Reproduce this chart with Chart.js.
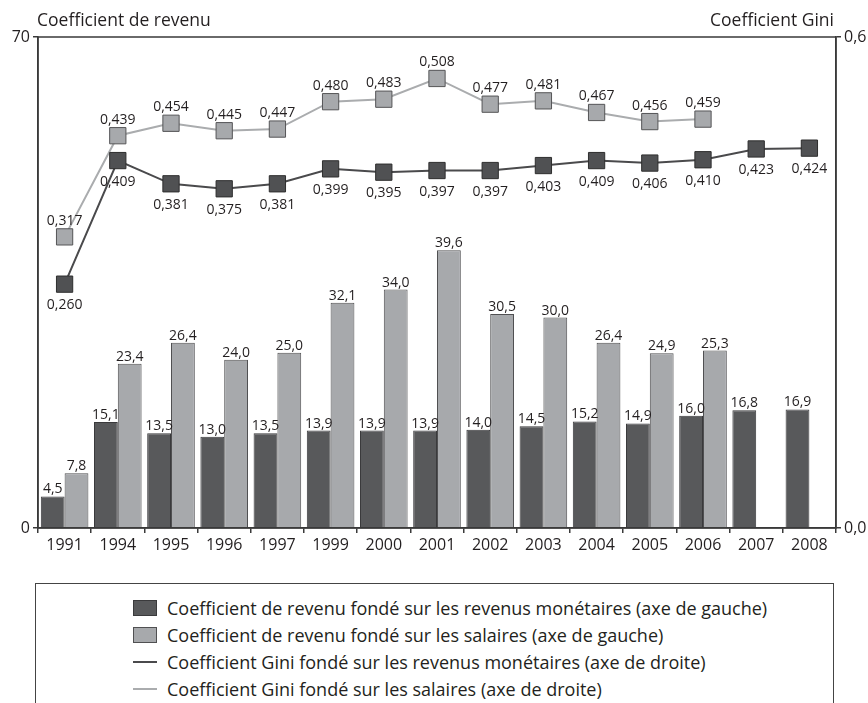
<!DOCTYPE html>
<html lang="fr">
<head>
<meta charset="utf-8">
<title>Coefficient de revenu et coefficient Gini</title>
<script src="https://cdn.jsdelivr.net/npm/chart.js@4.4.1/dist/chart.umd.min.js"></script>
<style>
  html, body { margin: 0; padding: 0; background: #fff; overflow: hidden; }
  body { width: 868px; height: 703px; position: relative; font-family: "Open Sans", sans-serif; color: #231f20; }
  #chart { position: absolute; left: 0; top: 0; }
  #legend {
    position: absolute; left: 35px; top: 583px; width: 799px; height: 160px;
    border: 1.5px solid #444; box-sizing: border-box;
    padding: 10px 0 0 97px;
  }
  .item { display: flex; align-items: center; height: 27px; font-size: 18px; white-space: nowrap; }
  .swatch { width: 24px; height: 16px; box-sizing: border-box; margin-right: 10px; flex: none; }
  .line { width: 24px; height: 2px; margin: 7px 10px 7px 0; flex: none; }
</style>
</head>
<body>
<canvas id="chart" width="868" height="560"></canvas>
<div id="legend"></div>
<script>
const YEARS = ['1991', '1994', '1995', '1996', '1997', '1999', '2000', '2001', '2002', '2003', '2004', '2005', '2006', '2007', '2008'];

// coefficient de revenu (axe de gauche)
const REVENU_MONETAIRE = [4.5, 15.1, 13.5, 13.0, 13.5, 13.9, 13.9, 13.9, 14.0, 14.5, 15.2, 14.9, 16.0, 16.8, 16.9];
const REVENU_SALAIRES = [7.8, 23.4, 26.4, 24.0, 25.0, 32.1, 34.0, 39.6, 30.5, 30.0, 26.4, 24.9, 25.3, null, null];

// coefficient Gini (axe de droite)
const GINI_MONETAIRE = [0.260, 0.409, 0.381, 0.375, 0.381, 0.399, 0.395, 0.397, 0.397, 0.403, 0.409, 0.406, 0.410, 0.423, 0.424];
const GINI_SALAIRES = [0.317, 0.439, 0.454, 0.445, 0.447, 0.480, 0.483, 0.508, 0.477, 0.481, 0.467, 0.456, 0.459, null, null];

const LEFT_TICKS = [0, 70];
const RIGHT_TICK_LABELS = ['0,0', '0,6'];

const TEXT = '#231f20';
const AXIS = '#3a3a3a';
const DARK = '#58595b';
const LIGHT = '#a7a9ac';

const fmt = (v, d) => v.toFixed(d).replace('.', ',');

const valueLabels = {
  id: 'valueLabels',
  afterDatasetsDraw(chart) {
    const ctx = chart.ctx;
    ctx.save();
    ctx.font = '14px "Open Sans"';
    ctx.fillStyle = TEXT;
    ctx.textAlign = 'center';
    ctx.textBaseline = 'alphabetic';
    chart.data.datasets.forEach((ds, i) => {
      chart.getDatasetMeta(i).data.forEach((el, j) => {
        const v = ds.data[j];
        if (v == null) return;
        let y;
        if (ds.type === 'bar') y = el.y - 3;
        else if (ds.labelSide === 'below') y = el.y + 25;
        else y = el.y - 12;
        ctx.fillText(fmt(v, ds.decimals), el.x, y);
      });
    });
    ctx.restore();
  }
};

const frameAndTitles = {
  id: 'frameAndTitles',
  afterDraw(chart) {
    const { ctx, chartArea: a } = chart;
    ctx.save();
    ctx.strokeStyle = AXIS;
    ctx.lineWidth = 1.5;
    ctx.strokeRect(a.left, a.top, a.right - a.left, a.bottom - a.top);
    ctx.fillStyle = TEXT;
    ctx.font = '17.5px "Open Sans"';
    ctx.textBaseline = 'alphabetic';
    ctx.textAlign = 'left';
    ctx.fillText('Coefficient de revenu', a.left - 1, 26);
    ctx.textAlign = 'right';
    ctx.fillText('Coefficient Gini', a.right - 2, 26);
    ctx.restore();
  }
};

const datasets = [
  {
    type: 'bar', label: 'Coefficient de revenu fondé sur les revenus monétaires (axe de gauche)',
    data: REVENU_MONETAIRE, yAxisID: 'y', decimals: 1, order: 2,
    backgroundColor: DARK, borderColor: '#3a3a3c', borderWidth: 1
  },
  {
    type: 'bar', label: 'Coefficient de revenu fondé sur les salaires (axe de gauche)',
    data: REVENU_SALAIRES, yAxisID: 'y', decimals: 1, order: 2,
    backgroundColor: LIGHT, borderColor: '#505052', borderWidth: 1
  },
  {
    type: 'line', label: 'Coefficient Gini fondé sur les revenus monétaires (axe de droite)',
    data: GINI_MONETAIRE, yAxisID: 'y1', decimals: 3, labelSide: 'below', order: 0,
    borderColor: '#4a4a4c', borderWidth: 2, tension: 0,
    pointStyle: 'rect', pointRadius: 11.5, pointHoverRadius: 11.5,
    pointBackgroundColor: '#505153', pointBorderColor: '#2e2e2e', pointBorderWidth: 1
  },
  {
    type: 'line', label: 'Coefficient Gini fondé sur les salaires (axe de droite)',
    data: GINI_SALAIRES, yAxisID: 'y1', decimals: 3, labelSide: 'above', order: 1,
    borderColor: '#aaacae', borderWidth: 2, tension: 0,
    pointStyle: 'rect', pointRadius: 11.5, pointHoverRadius: 11.5,
    pointBackgroundColor: LIGHT, pointBorderColor: '#555557', pointBorderWidth: 1
  }
];

function build() {
  const chart = new Chart(document.getElementById('chart'), {
    data: { labels: YEARS, datasets },
    options: {
      responsive: false,
      animation: false,
      devicePixelRatio: 1,
      layout: { padding: { top: 37, left: 0, right: 0, bottom: 0 } },
      plugins: { legend: { display: false }, tooltip: { enabled: false } },
      datasets: { bar: { categoryPercentage: 0.895, barPercentage: 1 } },
      scales: {
        x: {
          offset: true,
          grid: { offset: true, drawOnChartArea: false, drawTicks: true, tickLength: 5, color: AXIS, lineWidth: 1.5 },
          border: { color: AXIS, width: 1.5 },
          ticks: { color: TEXT, font: { family: 'Open Sans', size: 16 }, padding: 3, maxRotation: 0, autoSkip: false },
          afterFit: s => { s.height = 32; }
        },
        y: {
          position: 'left', min: LEFT_TICKS[0], max: LEFT_TICKS[1],
          afterBuildTicks: s => { s.ticks = LEFT_TICKS.map(v => ({ value: v })); },
          grid: { drawOnChartArea: false, tickLength: 5, color: AXIS, lineWidth: 1.5 },
          border: { color: AXIS, width: 1.5 },
          ticks: { color: TEXT, font: { family: 'Open Sans', size: 16 }, padding: 3 },
          afterFit: s => { s.width = 38; }
        },
        y1: {
          position: 'right', min: -0.034, max: 0.558,
          afterBuildTicks: s => { s.ticks = [{ value: s.min }, { value: s.max }]; },
          grid: { drawOnChartArea: false, tickLength: 5, color: AXIS, lineWidth: 1.5 },
          border: { color: AXIS, width: 1.5 },
          ticks: { color: TEXT, font: { family: 'Open Sans', size: 16 }, padding: 3,
                   callback: (v, i) => RIGHT_TICK_LABELS[i] },
          afterFit: s => { s.width = 32; }
        }
      }
    },
    plugins: [valueLabels, frameAndTitles]
  });

  // legend built from the chart's own datasets
  const legend = document.getElementById('legend');
  chart.data.datasets.forEach(ds => {
    const row = document.createElement('div');
    row.className = 'item';
    const mark = document.createElement('span');
    if (ds.type === 'bar') {
      mark.className = 'swatch';
      mark.style.background = ds.backgroundColor;
      mark.style.border = '1px solid ' + ds.borderColor;
    } else {
      mark.className = 'line';
      mark.style.background = ds.borderColor;
    }
    row.appendChild(mark);
    row.appendChild(document.createTextNode(ds.label));
    legend.appendChild(row);
  });
}

if (document.fonts && document.fonts.load) {
  document.fonts.load('15px "Open Sans"').then(build, build);
} else {
  build();
}
</script>
</body>
</html>
